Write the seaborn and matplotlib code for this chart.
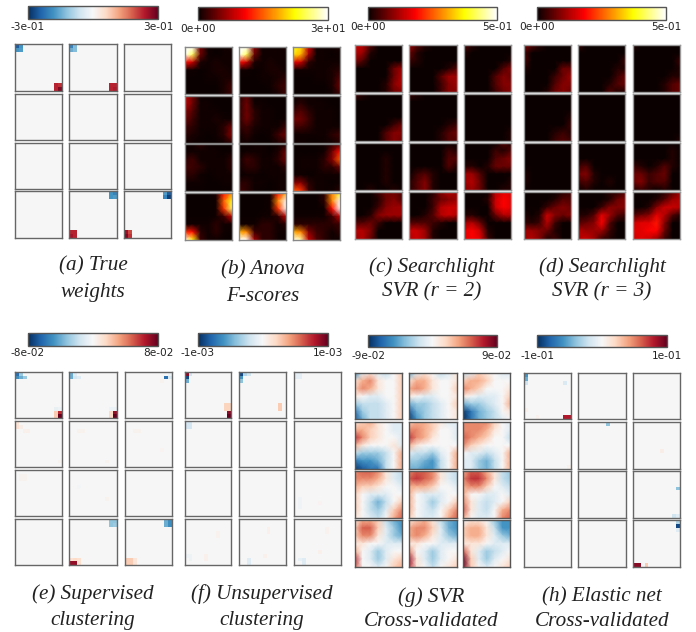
import numpy as np
import matplotlib
matplotlib.use("Agg")
import matplotlib.pyplot as plt
import seaborn as sns

sns.set_style("white")
W, H = 696, 632

# Dense panels: 7x7 readings per image, [image row][image column], top to bottom,
# on a coarse integer scale (see the scale/power arguments of panel()).
anova = [[
[[20,20,6,1,0,1,2],[20,18,6,1,0,1,1],[11,9,2,1,2,1,1],[1,1,0,1,2,2,1],[0,0,0,1,1,2,2],[0,0,0,0,0,2,4],[0,0,0,0,0,2,4]],
[[20,20,7,1,1,1,2],[20,18,6,1,1,1,1],[11,9,2,1,2,1,1],[1,1,0,1,2,2,1],[0,0,0,1,1,2,3],[0,0,0,0,1,3,4],[0,0,0,0,0,2,4]],
[[17,16,9,1,1,1,2],[16,15,8,1,1,0,1],[10,9,3,1,1,1,1],[1,1,1,1,1,2,3],[0,0,0,1,1,2,5],[0,0,0,0,0,2,6],[0,0,0,0,0,1,4]]],[
[[9,6,1,0,0,0,0],[9,6,1,1,0,0,0],[7,5,1,1,1,0,0],[6,4,1,1,2,1,1],[4,3,1,1,1,3,6],[3,2,1,0,1,3,7],[1,1,0,0,0,1,3]],
[[3,5,1,0,0,0,0],[3,6,1,1,0,0,0],[3,6,3,1,1,0,0],[3,6,3,1,1,0,1],[3,4,2,1,1,1,4],[1,3,1,0,1,4,6],[1,1,0,0,0,2,3]],
[[1,1,1,1,0,0,0],[1,3,1,1,1,0,0],[4,5,3,1,1,1,0],[6,6,4,1,1,1,0],[4,4,3,1,1,1,1],[1,1,1,1,1,3,4],[1,1,0,0,1,1,3]]],[
[[0,1,3,1,0,0,0],[1,1,1,1,1,0,1],[3,4,1,1,1,1,3],[4,4,3,1,1,1,3],[3,3,1,0,1,1,1],[1,1,1,0,0,1,1],[0,0,0,0,0,0,0]],
[[0,0,1,1,0,1,1],[0,1,1,1,0,2,6],[1,4,3,1,1,3,6],[1,3,3,1,1,1,3],[0,1,1,0,1,1,1],[3,3,1,1,0,1,1],[4,3,1,0,0,1,1]],
[[0,0,0,0,1,3,5],[0,0,0,0,1,6,11],[0,1,1,1,3,7,13],[0,1,1,1,3,3,6],[1,1,0,1,1,1,1],[7,7,3,1,1,0,1],[13,12,4,1,1,1,3]]],[
[[0,0,0,0,2,11,14],[0,0,0,0,1,13,17],[0,0,0,0,1,12,18],[0,0,0,0,1,4,9],[1,1,1,1,3,1,1],[12,11,3,1,3,1,0],[20,17,4,1,1,0,0]],
[[0,0,0,0,1,11,15],[0,0,0,0,1,14,20],[0,0,0,0,1,12,20],[0,0,0,1,1,3,9],[1,1,1,3,3,1,3],[15,14,4,3,3,1,1],[20,20,8,3,3,1,0]],
[[0,0,0,0,3,14,17],[0,0,0,0,3,14,20],[0,0,0,0,1,11,20],[1,1,1,1,1,4,9],[3,3,3,3,3,3,4],[15,14,7,4,3,1,3],[20,19,9,5,3,1,1]]]]

searchlight_r2 = [[
[[8,7,3,0,0,0,0],[7,6,1,0,0,0,0],[5,3,0,0,0,0,0],[0,0,0,0,0,4,6],[0,0,0,0,0,4,7],[0,0,0,0,1,5,7],[0,0,0,0,1,4,5]],
[[6,3,1,0,0,0,0],[4,1,0,0,0,0,0],[2,1,0,0,0,0,0],[0,0,0,0,0,1,3],[0,0,0,0,3,6,6],[0,0,0,0,2,5,6],[0,0,0,0,2,5,5]],
[[3,1,0,0,0,0,0],[1,0,0,0,0,0,0],[0,0,0,0,0,0,1],[0,0,0,0,0,3,5],[0,0,0,0,3,5,4],[0,0,0,0,3,5,5],[0,0,0,0,2,4,5]]],[
[[3,1,0,0,0,0,0],[0,0,0,0,0,0,0],[0,0,0,0,0,0,0],[0,0,0,0,0,0,0],[0,0,0,0,0,2,4],[0,0,0,0,3,5,5],[0,0,0,0,3,5,4]],
[[2,1,0,0,0,0,0],[0,0,0,0,0,0,0],[0,0,0,0,0,0,0],[0,0,0,0,0,0,0],[0,0,0,0,0,1,2],[0,0,0,0,1,3,4],[0,0,0,0,1,3,3]],
[[0,0,0,0,0,0,0],[0,0,0,0,0,0,0],[0,0,0,0,0,0,0],[0,0,0,0,0,0,0],[0,0,0,0,0,0,0],[0,0,0,0,0,0,1],[0,0,0,0,0,0,1]]],[
[[0,0,0,0,0,0,0],[0,0,0,0,0,0,0],[0,0,0,0,1,0,0],[0,0,0,0,1,0,0],[0,0,0,0,1,0,0],[0,0,0,0,1,0,0],[0,0,1,0,0,1,0]],
[[0,0,0,0,0,0,0],[0,0,0,0,0,2,1],[0,0,0,0,0,3,3],[0,0,0,0,0,3,1],[0,2,3,1,0,0,0],[1,3,5,1,0,0,0],[1,3,5,1,0,0,0]],
[[0,0,0,0,0,3,1],[0,0,0,0,2,1,3],[0,0,0,0,3,4,5],[1,1,0,1,4,4,4],[6,6,3,0,0,0,0],[6,7,4,0,0,0,1],[5,6,4,0,0,1,1]]],[
[[0,0,0,2,4,4,3],[0,0,0,1,4,5,3],[0,0,0,2,5,6,6],[0,0,1,5,6,6,6],[3,3,4,2,0,0,0],[7,7,5,0,0,0,0],[6,7,4,0,0,0,0]],
[[0,0,0,1,5,7,6],[0,0,0,2,4,5,6],[0,0,0,2,7,8,8],[0,0,1,3,7,8,7],[3,3,3,2,1,0,0],[8,8,6,1,0,0,0],[7,8,6,1,0,0,0]],
[[0,0,0,0,7,9,9],[0,0,0,1,8,10,9],[0,0,0,0,8,10,9],[1,1,0,0,4,7,7],[6,7,4,0,0,0,0],[9,10,8,1,0,0,0],[9,10,9,2,0,0,0]]]]

searchlight_r3 = [[
[[5,3,1,0,0,0,0],[3,0,0,0,0,0,0],[3,0,0,0,0,0,0],[1,0,0,0,0,4,4],[0,0,0,0,2,4,6],[0,0,0,0,3,5,5],[0,0,0,1,4,5,4]],
[[2,0,0,0,0,0,0],[0,0,0,0,0,0,0],[0,0,0,0,0,0,2],[0,0,0,0,0,1,1],[0,0,0,0,0,2,4],[0,0,0,0,1,3,4],[0,0,0,0,3,1,1]],
[[1,0,0,0,0,0,0],[0,0,0,0,0,0,0],[0,0,0,0,0,0,2],[0,0,0,0,0,0,1],[0,0,0,0,0,1,1],[0,0,0,0,1,3,4],[0,0,0,0,1,3,4]]],[
[[0,0,0,0,0,0,0],[0,0,0,0,0,0,0],[0,0,0,0,0,0,0],[0,0,0,0,0,0,1],[0,0,0,0,0,0,2],[0,0,0,0,1,2,1],[0,0,0,0,2,3,2]],
[[0,0,0,0,0,0,0],[0,0,0,0,0,0,0],[0,0,0,0,0,0,0],[0,0,0,0,0,0,0],[0,0,0,0,0,0,0],[0,0,0,0,0,0,0],[0,0,0,0,0,0,0]],
[[0,0,0,0,0,0,0],[0,0,0,0,0,0,0],[0,0,0,0,0,0,0],[0,0,0,0,0,0,0],[0,0,0,0,0,0,0],[0,0,0,0,0,0,0],[0,0,0,0,0,0,1]]],[
[[0,0,0,0,0,0,0],[0,0,0,0,0,0,0],[0,0,0,0,0,0,0],[0,0,0,0,0,0,0],[1,0,0,0,0,0,0],[1,0,0,0,0,0,0],[0,0,0,0,0,0,0]],
[[0,0,0,0,0,0,0],[0,0,0,0,0,0,0],[0,0,0,0,0,0,0],[2,3,0,0,0,0,0],[4,5,1,0,0,0,0],[2,3,1,0,1,0,0],[0,1,0,0,0,0,0]],
[[0,0,0,0,0,0,0],[0,0,0,0,0,1,0],[0,0,0,0,0,1,0],[2,1,0,1,3,1,0],[4,4,2,3,4,0,0],[4,5,2,3,3,0,0],[1,2,1,0,1,0,0]]],[
[[0,0,0,0,0,1,2],[0,0,0,0,1,3,3],[0,0,0,2,4,5,4],[1,0,1,8,5,4,5],[2,1,2,7,2,0,0],[6,6,5,4,1,0,0],[6,7,5,1,2,0,0]],
[[0,0,0,0,1,1,3],[0,0,0,0,1,4,5],[0,0,0,2,5,5,5],[1,1,3,9,6,3,2],[3,4,5,10,3,0,0],[7,6,6,6,2,0,0],[7,8,6,2,1,0,0]],
[[0,0,0,0,1,3,6],[0,0,0,1,3,6,7],[0,0,1,5,8,8,7],[3,4,5,9,7,3,1],[8,9,9,11,5,0,0],[9,9,10,10,4,0,0],[8,9,8,6,2,0,0]]]]

svr_cv = [[
[[-5,-1,1,-1,-2,0,2],[1,3,4,1,0,0,2],[2,4,3,1,0,0,2],[1,0,-1,-1,0,0,2],[-3,-2,-2,-2,-1,0,2],[-6,-3,-2,-2,-1,0,2],[-7,-4,-2,-2,-1,0,2]],
[[-4,-1,1,0,-2,-1,1],[1,3,3,1,0,0,1],[3,4,3,1,0,0,2],[1,0,-1,-1,0,0,1],[-4,-3,-3,-2,-1,0,2],[-7,-4,-3,-2,-1,0,1],[-8,-5,-3,-2,-1,0,1]],
[[-2,-1,2,1,0,-1,-1],[2,3,3,2,0,0,0],[4,3,2,0,0,0,1],[1,0,-1,-1,-1,0,2],[-4,-3,-3,-2,-1,0,3],[-8,-6,-4,-3,-2,0,1],[-9,-6,-4,-3,-2,-1,0]]],[
[[1,2,3,1,0,-1,-1],[3,3,2,1,0,-1,-1],[6,4,2,1,0,0,-1],[3,1,0,0,0,1,-1],[-2,-3,-3,-3,-2,0,3],[-6,-5,-5,-4,-2,0,3],[-8,-7,-6,-6,-2,0,3]],
[[2,3,3,2,1,-1,-1],[4,4,3,2,0,0,-1],[6,4,3,1,0,0,-1],[3,1,0,0,0,0,0],[-1,-2,-2,-3,-1,0,3],[-3,-3,-4,-5,-2,0,3],[-4,-4,-5,-5,-2,0,3]],
[[4,4,4,4,2,0,-1],[4,4,4,3,1,0,-1],[5,4,3,2,0,0,-2],[4,2,1,0,0,0,0],[0,-1,-1,-2,-1,0,3],[-1,-1,-3,-4,-2,0,3],[-1,-1,-3,-4,-2,0,3]]],[
[[4,5,5,4,1,-1,-2],[4,4,4,3,1,-1,-2],[3,2,2,1,0,0,-1],[2,0,-1,-1,-1,0,0],[2,0,-2,-4,-2,0,2],[2,0,-2,-3,-1,2,4],[1,0,-1,-2,0,3,5]],
[[4,5,5,4,1,-1,-2],[5,6,5,4,1,-1,-2],[3,3,3,2,0,0,-1],[3,0,-1,-1,-1,0,0],[3,0,-1,-3,-1,0,2],[3,0,-1,-2,0,2,4],[2,0,-1,-1,0,3,5]],
[[3,5,5,3,1,-2,-3],[4,6,6,4,1,-2,-3],[3,4,4,2,0,-1,-2],[3,0,0,-1,-1,0,-1],[4,1,-1,-2,-1,0,2],[5,1,-1,-2,0,3,4],[3,0,-1,-1,0,4,5]]],[
[[1,3,3,2,-2,-4,-5],[2,5,5,2,-1,-3,-5],[2,4,4,1,-1,-3,-4],[1,1,0,0,-1,-1,-1],[3,0,-1,-3,-1,0,0],[6,0,-1,-3,-1,1,2],[5,0,0,-1,0,2,3]],
[[1,2,3,1,-2,-4,-5],[3,4,4,2,-1,-4,-5],[3,4,3,1,-1,-3,-4],[1,1,0,0,-1,-1,-1],[4,0,-1,-3,-1,0,0],[7,1,-1,-3,-1,0,1],[6,1,0,-2,0,1,2]],
[[0,1,1,0,-3,-5,-5],[2,3,3,1,-2,-5,-5],[2,3,3,1,-1,-3,-4],[1,1,1,0,-1,-1,-1],[5,1,-1,-3,-2,-1,0],[8,2,-1,-3,-1,0,1],[8,2,0,-1,0,1,2]]]]

# Sparse panels: (image row, image column, cell row, cell column, value); other cells are 0.
true_weights = [
(0,0,0,0,-.25),(0,0,0,1,-.18),(0,0,1,0,-.18),(0,0,1,1,-.17),(0,0,10,10,.23),(0,0,10,11,.22),(0,0,11,10,.23),(0,0,11,11,.28),
(0,1,0,0,-.2),(0,1,0,1,-.13),(0,1,1,0,-.15),(0,1,1,1,-.13),(0,1,10,10,.23),(0,1,10,11,.23),(0,1,11,10,.23),(0,1,11,11,.24),
(3,1,0,10,-.18),(3,1,0,11,-.2),(3,1,1,10,-.18),(3,1,1,11,-.17),(3,1,10,0,.23),(3,1,10,1,.23),(3,1,11,0,.25),(3,1,11,1,.23),
(3,2,0,10,-.17),(3,2,0,11,-.25),(3,2,1,10,-.2),(3,2,1,11,-.28),(3,2,10,0,.26),(3,2,10,1,.2),(3,2,11,0,.28),(3,2,11,1,.22)]
supervised = [
(0,0,0,0,-.06),(0,0,1,0,-.05),(0,0,0,1,-.03),(0,0,1,1,-.04),(0,0,1,2,-.03),(0,0,9,10,-.006),(0,0,9,11,-.005),(0,0,10,10,.02),(0,0,11,10,.02),(0,0,10,11,.06),(0,0,11,11,.08),
(0,1,0,0,-.04),(0,1,1,0,-.04),(0,1,1,1,-.015),(0,1,1,2,-.01),(0,1,0,1,-.01),(0,1,9,10,-.005),(0,1,9,11,-.005),(0,1,10,10,.015),(0,1,11,10,.015),(0,1,10,11,.07),(0,1,11,11,.08),
(0,2,1,10,-.06),(0,2,1,11,-.012),(0,2,2,9,.003),(0,2,0,11,-.005),
(1,0,0,0,.011),(1,0,1,0,.012),(1,0,1,1,.005),(1,0,2,2,.004),(1,0,2,3,.004),(1,0,10,11,.003),
(1,1,2,2,.003),(1,1,2,3,.003),(1,1,10,9,.003),(1,2,2,2,.003),(1,2,2,3,.003),(1,2,7,9,.002),
(2,0,1,1,.003),(2,0,1,2,.003),(2,0,2,1,.003),(2,0,2,2,.003),(2,1,7,9,.003),(2,1,4,2,-.002),
(3,1,0,10,-.032),(3,1,0,11,-.032),(3,1,1,10,-.032),(3,1,1,11,-.03),(3,1,10,0,.012),(3,1,11,0,.07),(3,1,11,1,.07),(3,1,10,1,.015),(3,1,10,2,.013),(3,1,11,2,.013),
(3,2,0,10,-.04),(3,2,0,11,-.05),(3,2,1,10,-.04),(3,2,1,11,-.05),(3,2,10,0,.02),(3,2,11,0,.02),(3,2,10,1,.02),(3,2,11,1,.02),(3,2,10,2,.01),(3,2,11,2,.01)]
unsupervised = [
(0,0,0,0,.0009),(0,0,1,0,-.0009),(0,0,0,1,-.0002),(0,0,2,0,-.0005),(0,0,8,10,.00022),(0,0,9,10,.00022),(0,0,8,11,.00022),(0,0,9,11,.00022),(0,0,10,11,.0009),(0,0,11,11,.001),
(0,1,0,0,-.0009),(0,1,1,0,-.0006),(0,1,0,1,-.0003),(0,1,0,2,-.0002),(0,1,2,0,-.0004),(0,1,8,10,.00025),(0,1,9,10,.00025),
(0,2,0,0,-.0001),(0,2,0,1,-.0001),(0,2,1,0,-.0001),(0,2,1,1,-.0001),
(1,0,0,0,-.00018),(1,0,1,0,-.00018),(1,0,0,1,-.00018),(1,0,1,1,-.00018),
(2,2,7,1,-.00004),(2,2,8,1,-.00004),(2,2,9,1,-.00004),(2,2,8,6,.00003),
(3,0,9,0,-.00005),(3,0,9,1,-.00005),(3,0,10,1,-.00005),(3,0,9,5,.00005),(3,0,10,5,.00005),(3,0,3,8,.00004),(3,0,4,8,.00004),
(3,1,10,2,-.00012),(3,1,11,2,-.00012),(3,1,9,6,.00005),(3,1,2,7,.00005),(3,1,3,7,.00005),
(3,2,10,2,-.00012),(3,2,11,2,-.00012),(3,2,10,1,-.00008),(3,2,8,6,.00005),(3,2,2,8,.00004),(3,2,3,8,.00004)]
elastic_net = [
(0,0,0,0,-.06),(0,0,1,0,-.05),(0,0,2,0,-.02),(0,0,2,10,-.015),(0,0,11,10,.08),(0,0,11,11,.08),(0,0,9,0,.005),(0,0,11,3,.004),
(1,1,0,7,-.04),(1,2,7,7,.007),(1,0,11,11,.004),
(2,2,4,11,-.04),(2,2,11,10,-.02),(2,2,11,11,-.012),
(3,2,1,11,-.09),(3,2,0,11,-.03),(3,2,2,11,-.012),(3,2,11,0,.09),(3,2,11,1,.09),(3,2,11,3,.025)]

a_titles = ["(a) True", "weights"]; b_titles = ["(b) Anova", "F-scores"]
c_titles = ["(c) Searchlight", "SVR (r = 2)"]; d_titles = ["(d) Searchlight", "SVR (r = 3)"]
e_titles = ["(e) Supervised", "clustering"]; f_titles = ["(f) Unsupervised", "clustering"]
g_titles = ["(g) SVR", "Cross-validated"]; h_titles = ["(h) Elastic net", "Cross-validated"]

fig = plt.figure(figsize=(W / 100, H / 100), dpi=100, facecolor="white")


def px_axes(x0, y0, x1, y1):
    return fig.add_axes([x0 / W, 1 - y1 / H, (x1 - x0) / W, (y1 - y0) / H])


def sparse_grid(cells, r, c):
    grid = np.zeros((12, 12))
    for ir, ic, i, j, v in cells:
        if ir == r and ic == c:
            grid[i, j] = v
    return grid


def panel(columns, rows, cbar, label_y, vmax, labels, cmap, titles, title_x, title_y,
          dense=None, scale=1.0, power=1.0, sparse=None, edge="#666666"):
    vmin = -vmax if cmap == "RdBu_r" else 0
    mesh = None
    for r, (y0, y1) in enumerate(rows):
        for c, (x0, x1) in enumerate(columns):
            ax = px_axes(x0, y0, x1, y1)
            if dense is not None:
                raw = np.array(dense[r][c], dtype=float) * scale
                values = np.sign(raw) * np.abs(raw) ** power * vmax
                sns.heatmap(values, ax=ax, cmap=cmap, vmin=vmin, vmax=vmax, cbar=False,
                            xticklabels=False, yticklabels=False, shading="gouraud")
                ax.set_xlim(0, values.shape[1] - 1)
                ax.set_ylim(values.shape[0] - 1, 0)
            else:
                sns.heatmap(sparse_grid(sparse, r, c), ax=ax, cmap=cmap, vmin=vmin, vmax=vmax,
                            cbar=False, xticklabels=False, yticklabels=False)
            mesh = ax.collections[0]
            for s in ax.spines.values():
                s.set_visible(True)
                s.set_color(edge)
                s.set_linewidth(1.0)
    cax = px_axes(*cbar)
    cb = fig.colorbar(mesh, cax=cax, orientation="horizontal")
    cb.set_ticks([])
    cb.outline.set_edgecolor("#555555")
    cb.outline.set_linewidth(1.0)
    for x, t in zip((cbar[0], cbar[2]), labels):
        fig.text(x / W, 1 - label_y / H, t, ha="center", va="center", fontsize=7.6,
                 family="DejaVu Sans", color="#222222")
    for t, y in zip(titles, title_y):
        fig.text(title_x / W, 1 - y / H, t, ha="center", va="center", fontsize=15.2,
                 family="Liberation Serif", style="italic", color="#222222")


top_a = [(44, 91), (93.5, 140), (142.7, 188.7), (191, 238)]
top_b = [(46.7, 93.7), (95.7, 142.7), (143.7, 190.7), (193, 240)]
top_c = [(45.3, 92), (94, 140.7), (143, 189.7), (191.7, 238.7)]
low_e = [(371.7, 418.3), (421, 467.3), (469.7, 516.3), (519, 565.3)]
low_g = [(373.3, 419.3), (422, 468.7), (471, 517.7), (520.3, 567)]

panel([(14.7, 62), (69, 117), (124, 171)], top_a, (28, 6, 158, 19), 27, .3, ["-3e-01", "3e-01"],
      "RdBu_r", a_titles, 93, (266, 292), sparse=true_weights)
panel([(184.7, 231.7), (238.7, 286), (293, 340)], top_b, (198, 7.3, 327.7, 20), 29, 30, ["0e+00", "3e+01"],
      "hot", b_titles, 263, (270, 296), dense=anova, scale=.05, power=1.6, edge="#888888")
panel([(354.7, 401.7), (409.3, 456.7), (464.3, 511.3)], top_c, (368.3, 6.7, 497, 19.7), 27, .5, ["0e+00", "5e-01"],
      "hot", c_titles, 432, (267, 292), dense=searchlight_r2, scale=.036, edge="#999999")
panel([(523.7, 570.7), (578.3, 625.3), (633.3, 680.3)], top_c, (537.3, 6.7, 666, 19.7), 27, .5, ["0e+00", "5e-01"],
      "hot", d_titles, 602, (267, 292), dense=searchlight_r3, scale=.036, edge="#999999")
panel([(14.7, 62), (69.3, 117), (125, 172)], low_e, (28, 333, 158, 346), 353, .08, ["-8e-02", "8e-02"],
      "RdBu_r", e_titles, 93, (594, 620), sparse=supervised)
panel([(184.7, 231.3), (239.3, 286), (294.3, 341)], low_e, (198, 333, 327.7, 346), 353, .001, ["-1e-03", "1e-03"],
      "RdBu_r", f_titles, 262, (594, 620), sparse=unsupervised)
panel([(354.7, 401.7), (408.7, 456.7), (463.3, 510.3)], low_g, (368.3, 335, 497, 347.3), 355.7, .09, ["-9e-02", "9e-02"],
      "RdBu_r", g_titles, 431, (597, 621), dense=svr_cv, scale=.12, edge="#555555")
panel([(523.7, 571), (578, 626), (632.7, 680)], low_g, (537.3, 335, 667, 347.3), 355.7, .1, ["-1e-01", "1e-01"],
      "RdBu_r", h_titles, 602, (597, 621), sparse=elastic_net)

fig.savefig("out.png", dpi=100)
